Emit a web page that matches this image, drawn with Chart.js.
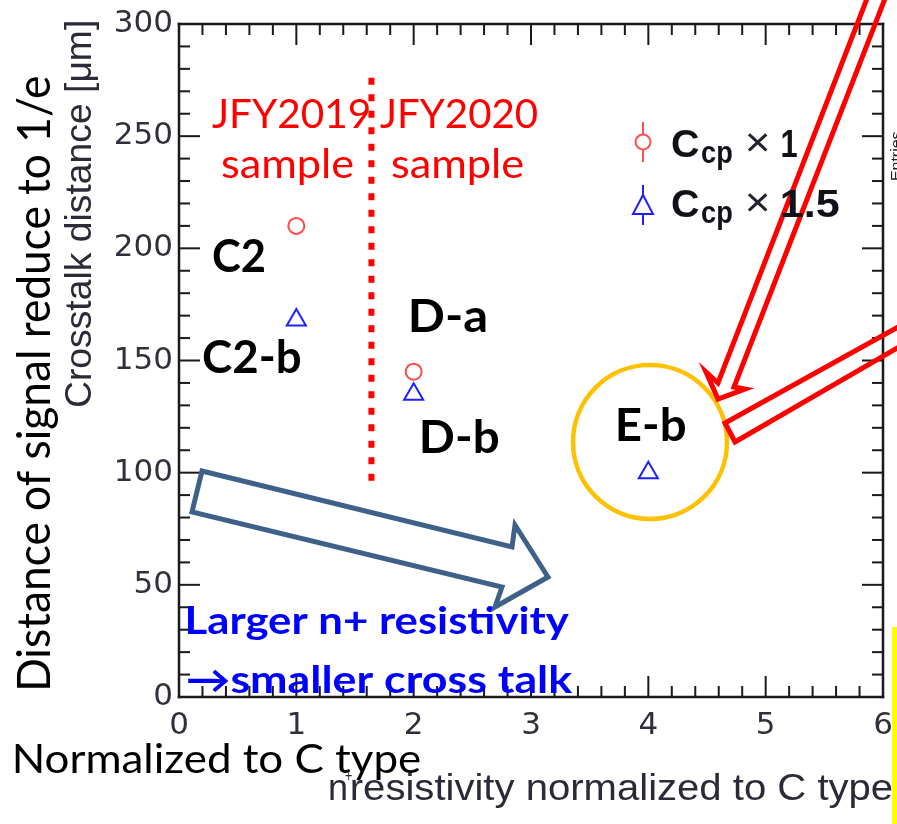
<!DOCTYPE html>
<html><head><meta charset="utf-8">
<script src="https://cdn.jsdelivr.net/npm/chart.js@4.4.1/dist/chart.umd.min.js"></script>
<style>html,body{margin:0;padding:0;background:#fff;overflow:hidden}#wrap{position:relative;width:897px;height:824px}</style>
</head><body><div id="wrap"><canvas id="c" width="897" height="824"></canvas></div>
<script>
// ---- data ----
const seriesNames = ['C_cp \u00d7 1', 'C_cp \u00d7 1.5'];
const ccp1X = [1, 2];
const ccp1Y = [210, 145];
const ccp15X = [1, 2, 4];
const ccp15Y = [168, 135, 100];
const xTicks = [0, 1, 2, 3, 4, 5, 6];
const yTicks = [0, 50, 100, 150, 200, 250, 300];
const dividerX = [1.64, 1.64];
const dividerY = [276, 93];
const sampleLabels = ['C2', 'C2-b', 'D-a', 'D-b', 'E-b'];

const LATO = 'Lato, "Open Sans", sans-serif';
const HELV = '"Liberation Sans", Arial, sans-serif';

function drawFit(ctx, s, font, color, left, baseline, width, rot) {
  ctx.save();
  ctx.font = font; ctx.fillStyle = color; ctx.textAlign = 'left'; ctx.textBaseline = 'alphabetic';
  const m = ctx.measureText(s);
  const ink = m.actualBoundingBoxLeft + m.actualBoundingBoxRight;
  ctx.translate(left, baseline);
  if (rot) ctx.rotate(rot);
  if (width) ctx.scale(width / ink, 1);
  ctx.fillText(s, m.actualBoundingBoxLeft, 0);
  ctx.restore();
}

function drawFrame(chart) {
  const ctx = chart.ctx, a = chart.chartArea, xs = chart.scales.x, ys = chart.scales.y;
  ctx.save();
  ctx.fillStyle = '#1a1a1a';
  const xStep = xTicks[1] - xTicks[0], yStep = yTicks[1] - yTicks[0];
  const nx = Math.round((xs.max - xs.min) / xStep * 5);
  for (let i = 0; i <= nx; i++) {
    const px = xs.getPixelForValue(xs.min + i * xStep / 5);
    const L = (i % 5 === 0) ? 21 : 11;
    ctx.fillRect(px - 1, a.bottom - L, 2, L);
    ctx.fillRect(px - 1, a.top, 2, L);
  }
  const ny = Math.round((ys.max - ys.min) / yStep * 5);
  for (let i = 0; i <= ny; i++) {
    const py = ys.getPixelForValue(ys.min + i * yStep / 5);
    const L = (i % 5 === 0) ? 21 : 11;
    ctx.fillRect(a.left, py - 1, L, 2);
    ctx.fillRect(a.right - L, py - 1, L, 2);
  }
  ctx.fillRect(a.left - 1.25, a.top - 1.25, 2.5, a.bottom - a.top + 2.5);
  ctx.fillRect(a.right - 1.25, a.top - 1.25, 2.5, a.bottom - a.top + 2.5);
  ctx.fillRect(a.left - 1.25, a.top - 1.25, a.right - a.left + 2.5, 2.5);
  ctx.fillRect(a.left - 1.25, a.bottom - 1.25, a.right - a.left + 2.5, 2.5);
  ctx.restore();
}

function poly(ctx, pts, close) {
  ctx.beginPath();
  pts.forEach((p, i) => i ? ctx.lineTo(p[0], p[1]) : ctx.moveTo(p[0], p[1]));
  if (close) ctx.closePath();
  ctx.stroke();
}

const annot = {
  id: 'annot',
  afterDraw(chart) {
    const ctx = chart.ctx;
    drawFrame(chart);
    // axis titles
    drawFit(ctx, 'Crosstalk distance [\u03bcm]', '37px ' + HELV, '#2b2b38', 91, 22 + 385, 385, -Math.PI / 2);
    drawFit(ctx, 'resistivity normalized to C type', '36px ' + HELV, '#2b2b38', 352, 800, 540);
    drawFit(ctx, 'n', '36px ' + HELV, '#2b2b38', 330, 800, 16);
    drawFit(ctx, '+', '18px ' + HELV, '#2b2b38', 345, 782, 7);
    drawFit(ctx, 'Entries', '15px ' + HELV, '#222', 901, 180, 48, -Math.PI / 2);

    // slide texts
    drawFit(ctx, 'Distance of signal reduce to 1/e', '46px ' + LATO, '#000', 50, 688, 611, -Math.PI / 2);
    drawFit(ctx, 'Normalized to C type', '40px ' + LATO, '#000', 15, 773, 405);
    drawFit(ctx, 'JFY2019', '40px ' + LATO, '#ff0000', 212, 128, 157);
    drawFit(ctx, 'sample', '40px ' + LATO, '#ff0000', 222, 178, 131);
    drawFit(ctx, 'JFY2020', '40px ' + LATO, '#ff0000', 380, 128, 157);
    drawFit(ctx, 'sample', '40px ' + LATO, '#ff0000', 392, 178, 131);

    const lb = 'bold 45px ' + LATO;
    drawFit(ctx, sampleLabels[0], lb, '#000', 213, 272, 52);
    drawFit(ctx, sampleLabels[1], lb, '#000', 203, 373, 97);
    drawFit(ctx, sampleLabels[2], lb, '#000', 411, 332, 75);
    drawFit(ctx, sampleLabels[3], lb, '#000', 422, 453, 76);
    drawFit(ctx, sampleLabels[4], lb, '#000', 618, 441, 67);

    drawFit(ctx, 'Larger n+ resistivity', 'bold 38px ' + LATO, '#0000ff', 188, 634, 382);
    drawFit(ctx, '\u2192smaller cross talk', 'bold 38px ' + LATO, '#0000ff', 188, 693, 385);

    ctx.save();
    ctx.lineJoin = 'miter';
    ctx.strokeStyle = '#3e618a'; ctx.lineWidth = 5;
    poly(ctx, [[202,471],[512,547],[515,525],[548,577],[495,607],[502,587],[192,512]], true);
    ctx.strokeStyle = '#ffc000'; ctx.lineWidth = 4.5;
    ctx.beginPath(); ctx.arc(650, 442, 77, 0, Math.PI * 2); ctx.stroke();
    ctx.strokeStyle = '#ff0000'; ctx.lineWidth = 5;
    poly(ctx, [[868,-4],[718,383],[706,372],[718,399],[745,389],[734,387],[886,-4]], false);
    poly(ctx, [[925,312],[725,423],[735,442],[925,332]], false);

    // legend markers
    ctx.lineWidth = 2;
    ctx.strokeStyle = '#ff5050';
    ctx.beginPath(); ctx.arc(643, 142, 7.5, 0, Math.PI * 2); ctx.stroke();
    poly(ctx, [[643,122],[643,134.5]], false);
    poly(ctx, [[643,149.5],[643,162]], false);
    ctx.strokeStyle = '#1f1fff';
    poly(ctx, [[643,195],[653,214],[633,214]], true);
    poly(ctx, [[643,185],[643,195]], false);
    poly(ctx, [[643,214],[643,225]], false);
    ctx.restore();
    const legRows = [{b: 157, num: '1', w: 15}, {b: 217, num: '1.5', w: 57}];
    legRows.forEach((r) => {
      drawFit(ctx, 'C', 'bold 38px ' + HELV, '#111118', 672, r.b, 27);
      drawFit(ctx, 'cp', 'bold 31px ' + HELV, '#111118', 702, r.b + 6, 30);
      drawFit(ctx, '\u00d7', '40px ' + HELV, '#222230', 747, r.b - 1, 21);
      drawFit(ctx, r.num, 'bold 39px ' + HELV, '#111118', 782, r.b, r.w);
    });

    ctx.save(); ctx.fillStyle = '#ffff00'; ctx.fillRect(892, 627, 6, 200); ctx.restore();
  }
};

new Chart(document.getElementById('c'), {
  type: 'scatter',
  data: {
    datasets: [
      { label: seriesNames[0], data: ccp1X.map((x, i) => ({x, y: ccp1Y[i]})),
        pointStyle: 'circle', pointRadius: 8, pointBorderWidth: 2,
        pointBorderColor: '#ff4a4a', pointBackgroundColor: 'rgba(0,0,0,0)', borderColor: '#ff4a4a', backgroundColor: 'rgba(0,0,0,0)' },
      { label: seriesNames[1], data: ccp15X.map((x, i) => ({x, y: ccp15Y[i]})),
        pointStyle: 'triangle', pointRadius: 11, pointBorderWidth: 2,
        pointBorderColor: '#1f1fff', pointBackgroundColor: 'rgba(0,0,0,0)', borderColor: '#1f1fff', backgroundColor: 'rgba(0,0,0,0)' },
      { label: 'divider', data: dividerX.map((x, i) => ({x, y: dividerY[i]})), showLine: true,
        pointRadius: 0, borderColor: '#ff0000', borderWidth: 6, borderDash: [7, 9.5], borderCapStyle: 'butt' }
    ]
  },
  options: {
    responsive: false, animation: false, devicePixelRatio: 1, events: [],
    layout: { padding: { top: 24, right: 14, left: 0, bottom: 0 } },
    plugins: { legend: { display: false }, tooltip: { enabled: false } },
    scales: {
      x: { type: 'linear', min: 0, max: 6,
        afterBuildTicks: s => { s.ticks = xTicks.map(v => ({value: v})); },
        grid: { display: false, drawTicks: false }, border: { display: false },
        ticks: { font: { family: 'DejaVu Sans', size: 31 }, color: '#30303c', padding: 10, maxRotation: 0, autoSkip: false },
        afterFit: s => { s.height = 127; s.paddingLeft = 0; s.paddingRight = 0; } },
      y: { type: 'linear', min: 0, max: 300,
        afterBuildTicks: s => { s.ticks = yTicks.map(v => ({value: v})); },
        grid: { display: false, drawTicks: false }, border: { display: false },
        ticks: { font: { family: 'DejaVu Sans', size: 31 }, color: '#30303c', padding: 6, autoSkip: false },
        afterFit: s => { s.width = 179; s.paddingTop = 0; s.paddingBottom = 0; } }
    }
  },
  plugins: [annot]
});
</script></body></html>
